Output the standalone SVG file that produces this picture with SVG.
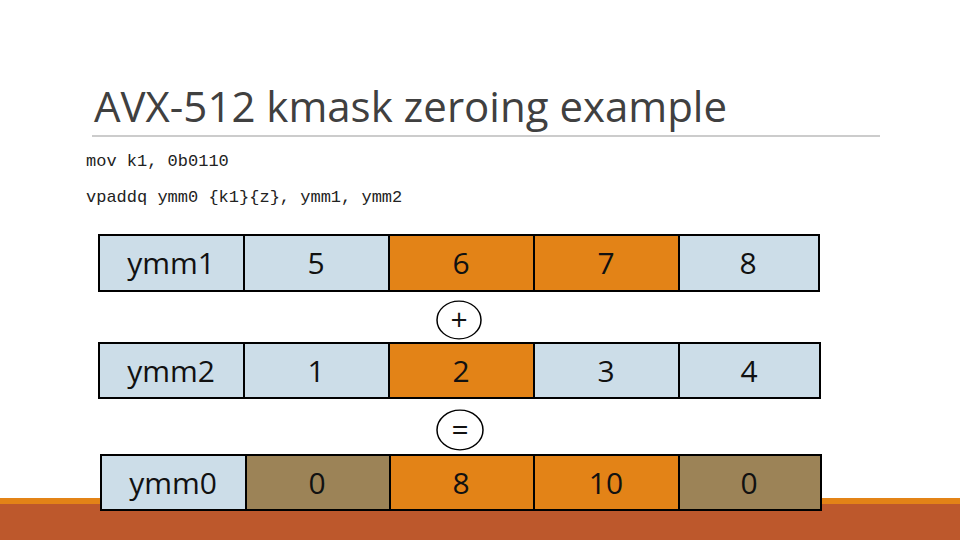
<svg xmlns="http://www.w3.org/2000/svg" width="960" height="540" viewBox="0 0 960 540">
<style>
.c{stroke:#000;stroke-width:2}
.b{fill:#CCDDE8}.o{fill:#E38317}.n{fill:#9C8357}
.t{font-family:"Open Sans","Liberation Sans",sans-serif;font-size:30px;text-anchor:middle;fill:#111}
.m{font-family:"Liberation Mono",monospace;font-size:17px;fill:#222}
</style>
<rect width="960" height="540" fill="#fff"/>
<rect x="0" y="498" width="960" height="6" fill="#E38317"/>
<rect x="0" y="504" width="960" height="36" fill="#BD582C"/>
<text x="94" y="122" font-family="'Open Sans','Liberation Sans',sans-serif" font-size="42" fill="#404040">AVX-512 kmask zeroing example</text>
<line x1="92" y1="136" x2="880" y2="136" stroke="#999" stroke-width="1.2"/>
<text class="m" x="86" y="166">mov k1, 0b0110</text>
<text class="m" x="86" y="202">vpaddq ymm0 {k1}{z}, ymm1, ymm2</text>
<g id="ymm1">
<rect class="c b" x="99" y="235" width="145" height="56"/>
<rect class="c b" x="244" y="235" width="145" height="56"/>
<rect class="c o" x="389" y="235" width="145" height="56"/>
<rect class="c o" x="534" y="235" width="145" height="56"/>
<rect class="c b" x="679" y="235" width="140" height="56"/>
<text class="t" x="171" y="274">ymm1</text><text class="t" x="316" y="274">5</text><text class="t" x="461" y="274">6</text><text class="t" x="606" y="274">7</text><text class="t" x="748" y="274">8</text>
</g>
<g id="ymm2">
<rect class="c b" x="99" y="343" width="145" height="55"/>
<rect class="c b" x="244" y="343" width="145" height="55"/>
<rect class="c o" x="389" y="343" width="145" height="55"/>
<rect class="c b" x="534" y="343" width="145" height="55"/>
<rect class="c b" x="679" y="343" width="141" height="55"/>
<text class="t" x="171" y="382">ymm2</text><text class="t" x="316" y="382">1</text><text class="t" x="461" y="382">2</text><text class="t" x="606" y="382">3</text><text class="t" x="749" y="382">4</text>
</g>
<g id="ymm0">
<rect class="c b" x="101" y="455" width="145" height="55"/>
<rect class="c n" x="246" y="455" width="144" height="55"/>
<rect class="c o" x="390" y="455" width="144" height="55"/>
<rect class="c o" x="534" y="455" width="145" height="55"/>
<rect class="c n" x="679" y="455" width="142" height="55"/>
<text class="t" x="173" y="494">ymm0</text><text class="t" x="317" y="494">0</text><text class="t" x="461" y="494">8</text><text class="t" x="606" y="494">10</text><text class="t" x="749" y="494">0</text>
</g>
<g id="ops">
<circle cx="459" cy="320" r="22" fill="#fff" stroke="#000" stroke-width="1.5" transform="translate(459 320) scale(1 0.86) translate(-459 -320)"/>
<text class="t" x="459" y="330" font-size="26">+</text>
<circle cx="460" cy="430" r="23" fill="#fff" stroke="#000" stroke-width="1.5" transform="translate(460 430) scale(1 0.86) translate(-460 -430)"/>
<text class="t" x="460" y="440" font-size="26">=</text>
</g>
</svg>
